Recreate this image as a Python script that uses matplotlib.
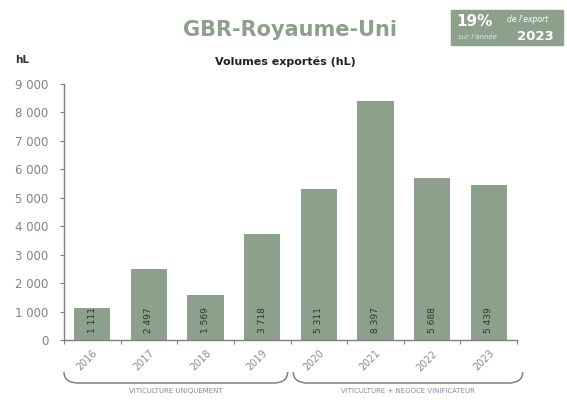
import matplotlib.pyplot as plt
import numpy as np
from matplotlib.path import Path
from matplotlib.patches import PathPatch, Rectangle
import matplotlib.transforms as mtransforms

years = ['2016', '2017', '2018', '2019', '2020', '2021', '2022', '2023']
volumes = [1111, 2497, 1569, 3718, 5311, 8397, 5688, 5439]
bar_labels = ['1 111', '2 497', '1 569', '3 718', '5 311', '8 397', '5 688', '5 439']
group_names = ['VITICULTURE UNIQUEMENT', 'VITICULTURE + NEGOCE VINIFICATEUR']

green = '#8ca08c'
grey = '#808080'
W, H = 567, 404

def fx(px):
    return px / W

def fy(py):
    return 1 - py / H

fig = plt.figure(figsize=(W / 100, H / 100), dpi=100)
ax = fig.add_axes([fx(64), fy(340), fx(517) - fx(64), fy(84) - fy(340)])

x = np.arange(len(years))
ax.bar(x, volumes, width=0.64, color=green)
for i in range(len(years)):
    ax.annotate(bar_labels[i], (x[i], 0), xytext=(0, 5), textcoords='offset points',
                rotation=90, ha='center', va='bottom', fontsize=6.5, color='#333333')

ax.set_xlim(-0.5, 7.5)
ax.set_ylim(0, 9000)
ax.set_yticks(np.arange(0, 9001, 1000))
ax.set_yticklabels([f'{v:,}'.replace(',', ' ') for v in range(0, 9001, 1000)])
ax.set_xticks(np.arange(-0.5, 8, 1))
ax.set_xticklabels([])
ax.set_xticks(x, minor=True)
ax.set_xticklabels(years, minor=True, rotation=45, ha='right', rotation_mode='anchor')
ax.tick_params(axis='x', which='minor', length=0, pad=6, labelsize=7, labelcolor='#8c8c8c')
ax.tick_params(axis='x', which='major', length=3, color=grey)
ax.tick_params(axis='y', length=3, color=grey, labelsize=8.5, labelcolor='#86827e', pad=8)
for s in ['top', 'right']:
    ax.spines[s].set_visible(False)
for s in ['left', 'bottom']:
    ax.spines[s].set_color(grey)
    ax.spines[s].set_linewidth(1)

# brackets under the axis
trans = mtransforms.blended_transform_factory(ax.transData, ax.transAxes)
y0, y1 = -0.125, -0.168
spans = [(-0.5, 3.45), (3.55, 7.6)]
for (a, b), name in zip(spans, group_names):
    verts = [(a, y0), (a, y1), (a + 0.25, y1), (b - 0.25, y1), (b, y1), (b, y0)]
    codes = [Path.MOVETO, Path.CURVE3, Path.CURVE3, Path.LINETO, Path.CURVE3, Path.CURVE3]
    ax.add_patch(PathPatch(Path(verts, codes), transform=trans, fill=False,
                           edgecolor=grey, lw=1.1, clip_on=False))
    ax.text((a + b) / 2, -0.2, name, transform=trans, ha='center', va='center',
            fontsize=5, color='#8a86a0')

fig.text(fx(290), fy(30), 'GBR-Royaume-Uni', ha='center', va='center',
         fontsize=15, fontweight='bold', color=green)
fig.text(fx(285), fy(62), 'Volumes exportés (hL)', ha='center', va='center',
         fontsize=8, fontweight='bold', color='#222222')
fig.text(fx(22), fy(60), 'hL', ha='center', va='center',
         fontsize=7.5, fontweight='bold', color='#333333')

fig.patches.append(Rectangle((fx(451), fy(45)), fx(563) - fx(451), fy(10) - fy(45),
                             transform=fig.transFigure, color=green))
fig.text(fx(474), fy(21), '19%', ha='center', va='center', fontsize=11,
         fontweight='bold', color='white')
fig.text(fx(528), fy(20), "de l'export", ha='center', va='center', fontsize=5.5,
         style='italic', color='white')
fig.text(fx(477), fy(37), "sur l'année", ha='center', va='center', fontsize=5,
         style='italic', color='#e4ebe4')
fig.text(fx(535), fy(36), '2023', ha='center', va='center', fontsize=9.5,
         fontweight='bold', color='white')

fig.savefig('out.png', dpi=100)
